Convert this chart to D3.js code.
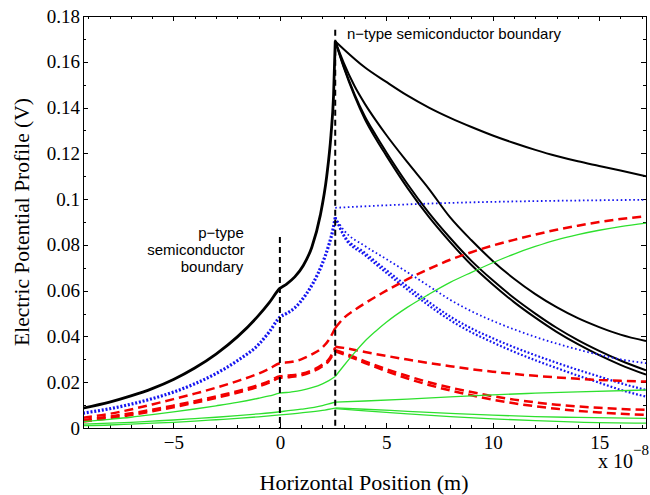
<!DOCTYPE html>
<html>
<head>
<meta charset="utf-8">
<script src="https://cdn.jsdelivr.net/npm/d3@7"></script>
<style>
  body { margin: 0; background: #fff; }
  .tick text { font-family: "Liberation Serif", serif; font-size: 19px; fill: #000; }
  .axis path, .axis line { stroke: #000; stroke-width: 1; }
</style>
</head>
<body>
<div id="chart"></div>
<script>
// x in units of 1e-8 m, y in volts
const xTicks = [-5, 0, 5, 10, 15];
const xTickLabels = ['\u22125', '0', '5', '10', '15'];
const yTicks = [0, 0.02, 0.04, 0.06, 0.08, 0.1, 0.12, 0.14, 0.16, 0.18];
const yTickLabels = ['0', '0.02', '0.04', '0.06', '0.08', '0.1', '0.12', '0.14', '0.16', '0.18'];
const boundaries = [[0, 0.0834], [2.6, 0.174]];

const blackLeft = [[-9.25,0.0087],[-8,0.0113],[-7,0.0140],[-6,0.0172],[-5,0.0212],[-4,0.0262],[-3,0.0323],[-2,0.0398],
  [-1,0.0492],[-0.5,0.0548],[0,0.0610],[0.3,0.0628],[0.7,0.0660],[1.1,0.0710],[1.5,0.0790],[1.9,0.0930],
  [2.2,0.110],[2.4,0.128],[2.52,0.145],[2.6,0.169]];
const blackRight = [
  [[2.6,0.169],[3,0.1655],[4,0.1575],[5,0.1512],[6,0.1452],[7,0.1400],[8,0.1355],[9,0.1315],[10,0.1278],
   [11,0.1245],[12,0.1215],[13,0.1188],[14,0.1165],[15,0.1145],[16,0.1125],[17.2,0.1100]],
  [[2.6,0.169],[3,0.1595],[3.5,0.1495],[4,0.1415],[4.5,0.1345],[5,0.128],[6,0.116],[7,0.1045],[8,0.092],
   [9,0.082],[10,0.073],[11,0.0652],[12,0.0585],[13,0.0528],[14,0.0480],[15,0.0441],[16,0.0408],[17.2,0.0380]],
  [[2.6,0.169],[3,0.158],[3.5,0.146],[4,0.136],[4.5,0.128],[5,0.1205],[6,0.1065],[7,0.094],[8,0.0830],
   [9,0.0730],[10,0.0645],[11,0.0568],[12,0.0500],[13,0.0438],[14,0.0384],[15,0.0337],[16,0.0295],[17.2,0.0252]],
  [[2.6,0.169],[3,0.1575],[3.5,0.1452],[4,0.1348],[4.5,0.1265],[5,0.119],[6,0.1048],[7,0.0922],[8,0.0812],
   [9,0.0712],[10,0.0627],[11,0.055],[12,0.0482],[13,0.042],[14,0.0366],[15,0.0318],[16,0.0276],[17.2,0.0233]]
];

const blueLeft = [[-9.25,0.0065],[-8,0.0084],[-7,0.0104],[-6,0.0128],[-5,0.0157],[-4,0.0193],[-3,0.0238],[-2,0.0294],
  [-1,0.0365],[-0.5,0.0420],[0,0.0484],[0.3,0.0500],[0.7,0.0525],[1.2,0.0580],[1.6,0.0640],[2.0,0.0720],
  [2.3,0.0800],[2.5,0.0870],[2.6,0.0920]];
const blueRight = [
  [[2.6,0.0962],[5,0.0973],[7.5,0.0982],[10,0.0988],[12.5,0.0992],[15,0.0995],[17.2,0.0997]],
  [[2.6,0.092],[3,0.0865],[4,0.0795],[5,0.0738],[6,0.0680],[7,0.0620],[8,0.0560],[9,0.0510],[10,0.0468],
   [11,0.0431],[12,0.0398],[13,0.0369],[14,0.0343],[15,0.0320],[16,0.0300],[17.2,0.0283]],
  [[2.6,0.092],[3,0.0845],[4,0.0765],[5,0.0690],[6,0.0618],[7,0.0550],[8,0.0487],[9,0.0435],[10,0.0392],
   [11,0.0353],[12,0.0318],[13,0.0285],[14,0.0254],[15,0.0225],[16,0.0196],[17.2,0.0166]],
  [[2.6,0.092],[3,0.0838],[4,0.0755],[5,0.0678],[6,0.0604],[7,0.0535],[8,0.0471],[9,0.0418],[10,0.0374],
   [11,0.0333],[12,0.0296],[13,0.0262],[14,0.0229],[15,0.0198],[16,0.0167],[17.2,0.0137]]
];

const redLeft = [
  [[-9.25,0.0045],[-8,0.0062],[-7,0.0081],[-6,0.0103],[-5,0.0126],[-4,0.0150],[-3,0.0176],[-2,0.0205],[-1,0.0238],
   [-0.5,0.0259],[0,0.0283],[0.5,0.0288],[1,0.0300],[1.5,0.0322],[2,0.0352],[2.3,0.0385],[2.6,0.0437]],
  [[-9.25,0.0035],[-8,0.0050],[-7,0.0064],[-6,0.0080],[-5,0.0098],[-4,0.0117],[-3,0.0138],[-2,0.0161],[-1,0.0188],
   [-0.5,0.0205],[0,0.0226],[0.5,0.0230],[1,0.0237],[1.5,0.0252],[2,0.0277],[2.3,0.0300],[2.6,0.0352]],
  [[-9.25,0.0028],[-8,0.0043],[-7,0.0057],[-6,0.0073],[-5,0.0091],[-4,0.0110],[-3,0.0131],[-2,0.0154],[-1,0.0181],
   [-0.5,0.0198],[0,0.0219],[0.5,0.0223],[1,0.0230],[1.5,0.0245],[2,0.0270],[2.3,0.0293],[2.6,0.0340]]
];
const redRight = [
  [[2.6,0.0437],[3,0.048],[3.5,0.0515],[4,0.0545],[5,0.0600],[6,0.065],[7,0.0695],[8,0.0735],[9,0.0768],[10,0.0797],
   [11,0.0822],[12,0.0845],[13,0.0866],[14,0.0884],[15,0.0900],[16,0.0913],[17.2,0.0925]],
  [[2.6,0.0355],[3,0.0350],[4,0.0332],[5,0.0315],[6,0.0299],[7,0.0284],[8,0.0270],[9,0.0257],[10,0.0246],
   [11,0.0236],[12,0.0228],[13,0.0221],[14,0.0215],[15,0.0210],[16,0.0206],[17.2,0.0203]],
  [[2.6,0.034],[3,0.0328],[4,0.0291],[5,0.0257],[6,0.0227],[7,0.0200],[8,0.0177],[9,0.0157],[10,0.0139],
   [11,0.0124],[12,0.0112],[13,0.0102],[14,0.0094],[15,0.0088],[16,0.0083],[17.2,0.0079]],
  [[2.6,0.0335],[3,0.0322],[4,0.0284],[5,0.0248],[6,0.0216],[7,0.0188],[8,0.0164],[9,0.0143],[10,0.0124],
   [11,0.0108],[12,0.0095],[13,0.0084],[14,0.0075],[15,0.0068],[16,0.0062],[17.2,0.0057]]
];

const greenLeft = [
  [[-9.25,0.0028],[-8,0.0038],[-7,0.0047],[-6,0.0058],[-5,0.0070],[-4,0.0083],[-3,0.0097],[-2,0.0112],[-1,0.0130],
   [-0.5,0.0140],[0,0.0152],[0.5,0.0157],[1,0.0164],[1.5,0.0176],[2,0.0193],[2.3,0.0207],[2.6,0.0225]],
  [[-9.25,0.0017],[-8,0.0021],[-7,0.0025],[-6,0.0030],[-5,0.0035],[-4,0.0041],[-3,0.0047],[-2,0.0054],[-1,0.0062],
   [0,0.0071],[1,0.0082],[2,0.0098],[2.6,0.0113]],
  [[-9.25,0.0010],[-8,0.0013],[-7,0.0017],[-6,0.0021],[-5,0.0025],[-4,0.0030],[-3,0.0036],[-2,0.0042],[-1,0.0049],
   [0,0.0057],[1,0.0066],[2,0.0077],[2.6,0.0087]]
];
const greenRight = [
  [[2.6,0.0225],[3,0.0272],[3.5,0.0328],[4,0.0380],[4.5,0.0423],[5,0.0462],[6,0.0528],[7,0.0584],[8,0.0636],[9,0.0680],
   [10,0.0722],[11,0.0760],[12,0.0793],[13,0.0822],[14,0.0845],[15,0.0864],[16,0.0880],[17.2,0.0895]],
  [[2.6,0.0113],[4,0.0118],[6,0.0126],[8,0.0136],[10,0.0145],[12,0.0152],[14,0.0158],[17.2,0.0166]],
  [[2.6,0.0088],[4,0.0082],[6,0.0073],[8,0.0064],[10,0.0056],[12,0.0050],[14,0.0046],[17.2,0.0042]],
  [[2.6,0.0085],[4,0.0075],[6,0.0062],[8,0.0050],[10,0.0040],[12,0.0032],[14,0.0026],[17.2,0.0021]]
];

const width = 650, height = 495;
const margin = {top: 16, right: 4, bottom: 67, left: 83};

const svg = d3.select('#chart').append('svg')
  .attr('width', width).attr('height', height);

const x = d3.scaleLinear().domain([-9.25, 17.2]).range([margin.left, width - margin.right]);
const y = d3.scaleLinear().domain([0, 0.18]).range([height - margin.bottom, margin.top]);

svg.append('clipPath').attr('id', 'plotclip')
  .append('rect')
  .attr('x', margin.left).attr('y', margin.top)
  .attr('width', width - margin.left - margin.right)
  .attr('height', height - margin.top - margin.bottom);

// axes: MATLAB style, ticks pointing in, box all round
const xMinor = d3.range(-9, 18, 1);
const yMinor = d3.range(0, 0.181, 0.01);

function addAxis(axis, tx, ty){
  svg.append('g').attr('class', 'axis')
    .attr('transform', 'translate(' + tx + ',' + ty + ')')
    .call(axis)
    .call(g => g.select('.domain').remove());
}

addAxis(d3.axisBottom(x).tickValues(xMinor).tickSize(-3).tickFormat(''), 0, y(0));
addAxis(d3.axisBottom(x).tickValues(xTicks).tickSize(-5).tickPadding(8).tickFormat((d, i) => xTickLabels[i]), 0, y(0));
addAxis(d3.axisTop(x).tickValues(xMinor).tickSize(-3).tickFormat(''), 0, y(0.18));
addAxis(d3.axisTop(x).tickValues(xTicks).tickSize(-5).tickFormat(''), 0, y(0.18));
addAxis(d3.axisLeft(y).tickValues(yMinor).tickSize(-3).tickFormat(''), x.range()[0], 0);
addAxis(d3.axisLeft(y).tickValues(yTicks).tickSize(-5).tickPadding(3).tickFormat((d, i) => yTickLabels[i]), x.range()[0], 0);
addAxis(d3.axisRight(y).tickValues(yMinor).tickSize(-3).tickFormat(''), x.range()[1], 0);
addAxis(d3.axisRight(y).tickValues(yTicks).tickSize(-5).tickFormat(''), x.range()[1], 0);

svg.selectAll('.tick line').attr('shape-rendering', 'crispEdges');

const plot = svg.append('g').attr('clip-path', 'url(#plotclip)');

const lineFunc = d3.line()
  .curve(d3.curveMonotoneX)
  .x(d => x(d[0]))
  .y(d => y(d[1]));

function drawSet(series, color, w, dash){
  plot.append('g').selectAll('path')
    .data(series)
    .enter()
    .append('path')
    .attr('d', d => lineFunc(d))
    .attr('fill', 'none')
    .attr('stroke', color)
    .attr('stroke-width', w)
    .attr('stroke-dasharray', dash)
    .attr('stroke-linecap', 'butt');
}

drawSet([blackLeft], '#000', 2.8, null);
drawSet(blackRight, '#000', 2, null);
drawSet([blueLeft], '#1515f0', 3.2, '2,1.8');
drawSet(blueRight.slice(0, 2), '#1515f0', 1.8, '1.6,2.6');
drawSet(blueRight.slice(2), '#1515f0', 2.2, '1.8,2');
drawSet(redLeft, '#f20000', 2.5, '9,5');
drawSet(redRight, '#f20000', 2.5, '9,5');
drawSet(greenLeft, '#2ee02e', 1.3, null);
drawSet(greenRight, '#2ee02e', 1.3, null);

// boundary markers
plot.append('g').selectAll('line')
  .data(boundaries)
  .enter()
  .append('line')
  .attr('x1', d => x(d[0])).attr('x2', d => x(d[0]))
  .attr('y1', d => y(d[1])).attr('y2', y(0))
  .attr('stroke', '#000')
  .attr('stroke-width', 2)
  .attr('stroke-dasharray', '6,4');

// box
svg.append('rect')
  .attr('x', margin.left).attr('y', margin.top)
  .attr('width', width - margin.left - margin.right)
  .attr('height', height - margin.top - margin.bottom)
  .attr('fill', 'none').attr('stroke', '#000').attr('stroke-width', 1)
  .attr('shape-rendering', 'crispEdges');

// annotations
const sans = '"Liberation Sans", Arial, sans-serif';
svg.append('text')
  .attr('x', 347).attr('y', 39)
  .attr('font-family', sans).attr('font-size', 15)
  .text('n\u2212type semiconductor boundary');

const pLines = [['p\u2212type', 221, 238], ['semiconductor', 196, 255], ['boundary', 212, 272]];
svg.append('g').selectAll('text')
  .data(pLines)
  .enter()
  .append('text')
  .attr('x', d => d[1]).attr('y', d => d[2])
  .attr('text-anchor', 'middle')
  .attr('font-family', sans).attr('font-size', 15)
  .text(d => d[0]);

// axis titles
const serif = '"Liberation Serif", "Times New Roman", serif';
svg.append('text')
  .attr('x', 364).attr('y', 490)
  .attr('text-anchor', 'middle')
  .attr('font-family', serif).attr('font-size', 22)
  .text('Horizontal Position (m)');

svg.append('text')
  .attr('transform', 'translate(29,' + ((margin.top + height - margin.bottom) / 2) + ') rotate(-90)')
  .attr('text-anchor', 'middle')
  .attr('font-family', serif).attr('font-size', 21.5)
  .text('Electric Potential Profile (V)');

// exponent label, nudged just clear of the "15" tick label
const expo = svg.append('text')
  .attr('x', 598).attr('y', 468)
  .attr('font-family', serif).attr('font-size', 20);
expo.append('tspan').text('x 10');
expo.append('tspan').attr('dy', -13).attr('font-size', 15).text('\u22128');
</script>
</body>
</html>
